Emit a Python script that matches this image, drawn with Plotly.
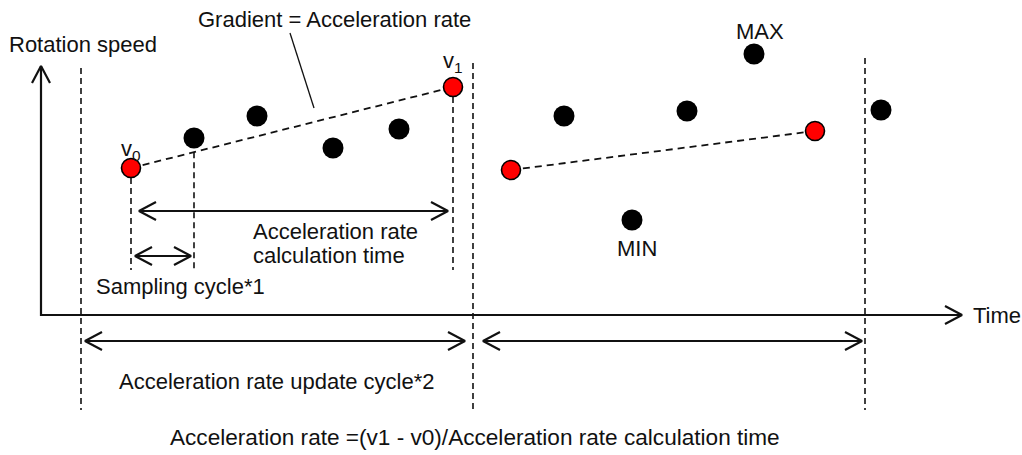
import plotly.graph_objects as go

# ---- data (time axis in px-like units, speed upward) ----
sample_time = [131, 194, 257, 333, 399, 453, 511, 564, 632, 687, 754, 815, 881]
sample_speed = [287, 317, 339, 307, 326, 368, 285, 339, 235, 344, 401, 324, 345]
is_edge = [1, 0, 0, 0, 0, 1, 1, 0, 0, 0, 0, 1, 0]   # red = v0 / v1 samples

cycle_bounds = [81, 473, 865]           # acceleration-rate update cycle boundaries
bound_tops = [387, 392, 397]
bound_bottom = 45
calc_pairs = [(0, 5), (6, 11)]          # (v0 index, v1 index) per cycle

axis_origin = (41, 140)
axis_x_end = 962
axis_y_end = 389

drop_bottom = 185
calc_arrow = (139, 448, 244)            # x0, x1, level
sampling_arrow = (135, 191, 199)
update_arrows = [(85, 465, 114), (483, 862, 114)]

FONT = "Liberation Sans"
FS = 22
INK = "#111111"
HEAD_L = 17
HEAD_W = 9

fig = go.Figure()


def add_line(xs, ys, width=1.6, dash=None):
    fig.add_trace(go.Scatter(x=xs, y=ys, mode="lines",
                             line=dict(color=INK, width=width, dash=dash),
                             hoverinfo="skip", showlegend=False))


def head(tx, ty, dx, dy):
    """chevron at tip (tx,ty) pointing along unit direction (dx,dy)"""
    px, py = -dy, dx
    return ([tx - dx * HEAD_L + px * HEAD_W, tx, tx - dx * HEAD_L - px * HEAD_W, None],
            [ty - dy * HEAD_L + py * HEAD_W, ty, ty - dy * HEAD_L - py * HEAD_W, None])


def harrow(x0, x1, y, both=True):
    xs, ys = [x0, x1, None], [y, y, None]
    hx, hy = head(x1, y, 1, 0)
    xs += hx; ys += hy
    if both:
        hx, hy = head(x0, y, -1, 0)
        xs += hx; ys += hy
    add_line(xs, ys, width=2.2)


# gradient (dashed) lines between v0 and v1
for i0, i1 in calc_pairs:
    add_line([sample_time[i0], sample_time[i1]], [sample_speed[i0], sample_speed[i1]],
             width=1.8, dash="7px,5px")

# vertical drop lines: v0, first sampling step (from gradient line), v1
i0, i1 = calc_pairs[0]
slope = (sample_speed[i1] - sample_speed[i0]) / (sample_time[i1] - sample_time[i0])
grad_at_1 = sample_speed[i0] + slope * (sample_time[1] - sample_time[i0])
add_line([sample_time[i0], sample_time[i0]], [sample_speed[i0], drop_bottom], dash="6px,4px")
add_line([sample_time[1], sample_time[1]], [grad_at_1, drop_bottom], dash="6px,4px")
add_line([sample_time[i1], sample_time[i1]], [sample_speed[i1], drop_bottom], dash="6px,4px")

# cycle boundary dashed lines
for xb, top in zip(cycle_bounds, bound_tops):
    add_line([xb, xb], [top, bound_bottom], dash="6px,4px")

# leader line for gradient label
add_line([290, 314], [422, 347], width=1.3)

# axes with open arrowheads
ox, oy = axis_origin
xs, ys = [ox, ox, axis_x_end, None], [axis_y_end, oy, oy, None]
hx, hy = head(axis_x_end, oy, 1, 0); xs += hx; ys += hy
hx, hy = head(ox, axis_y_end, 0, 1); xs += hx; ys += hy
add_line(xs, ys, width=2.2)

# dimension arrows
harrow(calc_arrow[0], calc_arrow[1], calc_arrow[2])
harrow(sampling_arrow[0], sampling_arrow[1], sampling_arrow[2])
for a in update_arrows:
    harrow(*a)

# black samples
bx = [t for t, e in zip(sample_time, is_edge) if not e]
by = [s for s, e in zip(sample_speed, is_edge) if not e]
fig.add_trace(go.Scatter(x=bx, y=by, mode="markers",
                         marker=dict(size=21, color="black"),
                         hoverinfo="skip", showlegend=False))
# red samples
rx = [t for t, e in zip(sample_time, is_edge) if e]
ry = [s for s, e in zip(sample_speed, is_edge) if e]
fig.add_trace(go.Scatter(x=rx, y=ry, mode="markers",
                         marker=dict(size=19, color="#ff0000",
                                     line=dict(color="black", width=1.6)),
                         hoverinfo="skip", showlegend=False))

anns = []


def text(x, y, s, size=FS, xanchor="center"):
    anns.append(dict(x=x, y=y, xref="x", yref="y", text=s, showarrow=False,
                     xanchor=xanchor, yanchor="middle",
                     font=dict(family=FONT, size=size, color=INK)))


text(334, 436, "Gradient = Acceleration rate")
text(7, 411, "Rotation speed", xanchor="left")
text(131, 305, "v<sub>0</sub>")
text(453, 393, "v<sub>1</sub>")
text(760, 424, "MAX")
text(637, 207, "MIN")
text(251, 224, "Acceleration rate", xanchor="left")
text(251, 200, "calculation time", xanchor="left")
text(94, 169, "Sampling cycle*1", xanchor="left")
text(971, 140, "Time", xanchor="left")
text(277, 74, "Acceleration rate update cycle*2")
text(168, 18, "Acceleration rate =(v1 - v0)/Acceleration rate calculation time",
     size=22.6, xanchor="left")

fig.update_layout(
    width=1022, height=455, margin=dict(l=0, r=0, t=0, b=0),
    paper_bgcolor="white", plot_bgcolor="white",
    xaxis=dict(range=[0, 1022], visible=False, fixedrange=True),
    yaxis=dict(range=[0, 455], visible=False, fixedrange=True),
    annotations=anns, showlegend=False,
)

fig.write_html("out.html", config={"displayModeBar": False},
               post_script="document.body.style.margin='0px';")
